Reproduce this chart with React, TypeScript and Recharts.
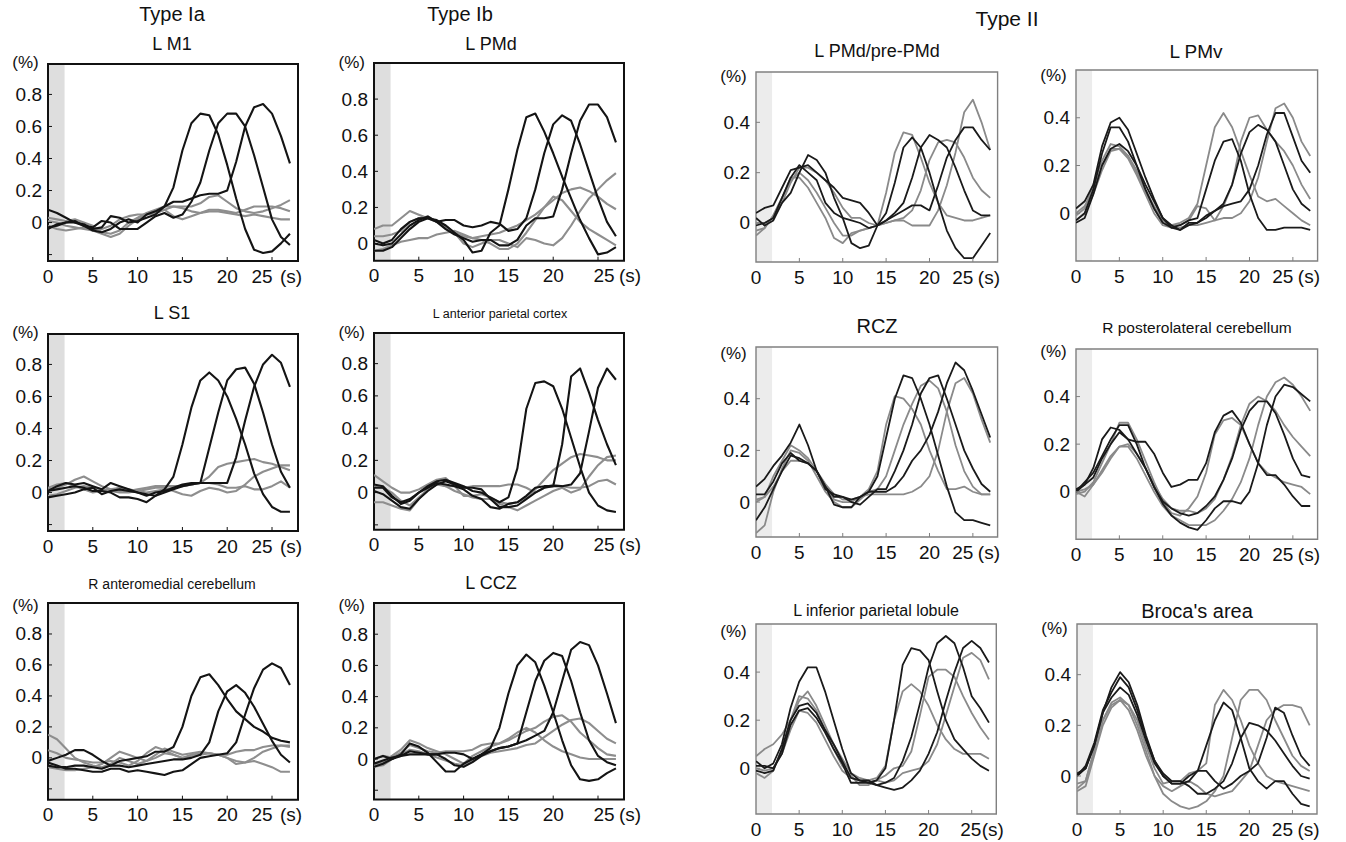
import React from "react";
import { LineChart, Line, XAxis, YAxis, ReferenceArea } from "recharts";

// sampling times (s) and axis ticks
const seconds = [0, 1, 2, 3, 4, 5, 6, 7, 8, 9, 10, 11, 12, 13, 14, 15, 16, 17, 18, 19, 20, 21, 22, 23, 24, 25, 26, 27];
const xTicks = [0, 5, 10, 15, 20, 25];
const yTicksTypeI = [-0.2, 0, 0.2, 0.4, 0.6, 0.8];
const yTicksTypeII = [0, 0.2, 0.4];

// ---- Type Ia / Ib ----
const lM1Black = [
  [0.08, 0.06, 0.03, 0.0, -0.01, -0.04, -0.03, 0.04, 0.03, 0.0, 0.01, 0.03, 0.05, 0.1, 0.22, 0.45, 0.62, 0.68, 0.67, 0.55, 0.36, 0.15, -0.04, -0.17, -0.19, -0.18, -0.13, -0.07],
  [-0.03, -0.02, 0.0, 0.0, -0.02, -0.03, 0.01, 0.0, -0.04, -0.04, -0.04, 0.0, 0.04, 0.06, 0.03, 0.05, 0.13, 0.25, 0.45, 0.62, 0.68, 0.68, 0.6, 0.42, 0.22, 0.02, -0.09, -0.14],
  [-0.04, -0.01, 0.0, 0.01, -0.02, -0.05, -0.06, -0.04, 0.0, 0.02, 0.0, 0.05, 0.07, 0.1, 0.13, 0.13, 0.15, 0.17, 0.18, 0.18, 0.2, 0.38, 0.6, 0.72, 0.74, 0.68, 0.54, 0.37],
];
const lM1Gray = [
  [0.03, 0.02, 0.01, 0.02, 0.0, -0.02, -0.06, -0.07, -0.05, 0.0, 0.03, 0.06, 0.08, 0.1, 0.1, 0.1, 0.1, 0.12, 0.16, 0.17, 0.13, 0.09, 0.07, 0.06, 0.07, 0.09, 0.11, 0.14],
  [-0.02, -0.04, -0.05, -0.04, -0.03, -0.05, -0.07, -0.09, -0.07, -0.02, 0.02, 0.05, 0.06, 0.08, 0.04, 0.02, 0.04, 0.06, 0.08, 0.08, 0.07, 0.06, 0.08, 0.1, 0.1, 0.1, 0.09, 0.07],
  [0.01, 0.0, -0.02, -0.03, -0.04, -0.05, -0.04, -0.02, 0.02, 0.04, 0.05, 0.05, 0.06, 0.08, 0.1, 0.09, 0.07, 0.06, 0.07, 0.07, 0.06, 0.05, 0.04, 0.05, 0.04, 0.03, 0.02, 0.02],
];

const lPMdBlack = [
  [0.02, 0.0, 0.02, 0.08, 0.12, 0.14, 0.14, 0.13, 0.1, 0.06, 0.02, -0.05, -0.04, 0.06, 0.1, 0.3, 0.52, 0.7, 0.72, 0.62, 0.5, 0.37, 0.25, 0.13, 0.03, -0.06, -0.05, -0.02],
  [-0.04, -0.04, -0.02, 0.03, 0.08, 0.12, 0.14, 0.12, 0.13, 0.13, 0.1, 0.09, 0.1, 0.12, 0.11, 0.07, 0.08, 0.14, 0.3, 0.5, 0.66, 0.71, 0.68, 0.55, 0.4, 0.25, 0.12, 0.04],
  [0.0, -0.01, 0.0, 0.05, 0.1, 0.13, 0.15, 0.12, 0.08, 0.05, 0.03, 0.01, 0.02, 0.02, -0.01, -0.01, 0.02, 0.1, 0.14, 0.14, 0.15, 0.3, 0.5, 0.68, 0.77, 0.77, 0.7, 0.56],
];
const lPMdGray = [
  [0.08, 0.1, 0.1, 0.14, 0.18, 0.16, 0.14, 0.12, 0.1, 0.06, 0.0, -0.02, 0.0, 0.02, 0.02, 0.0, -0.02, 0.03, 0.02, 0.0, -0.01, 0.03, 0.1, 0.18, 0.25, 0.3, 0.35, 0.39],
  [0.04, 0.04, 0.05, 0.07, 0.12, 0.14, 0.15, 0.12, 0.09, 0.06, 0.04, 0.03, 0.04, 0.05, 0.06, 0.08, 0.1, 0.13, 0.16, 0.2, 0.24, 0.28, 0.3, 0.31, 0.29, 0.26, 0.22, 0.19],
  [-0.04, -0.03, -0.01, 0.01, 0.02, 0.03, 0.03, 0.05, 0.06, 0.07, 0.05, 0.03, 0.02, 0.0, -0.03, -0.03, 0.0, 0.06, 0.13, 0.2, 0.26, 0.24, 0.18, 0.12, 0.08, 0.05, 0.02, -0.01],
];

const lS1Black = [
  [0.01, 0.04, 0.06, 0.05, 0.06, 0.04, 0.02, 0.06, 0.04, 0.02, 0.0, -0.01, -0.02, 0.02, 0.1, 0.3, 0.53, 0.7, 0.75, 0.7, 0.6, 0.46, 0.3, 0.12, -0.01, -0.09, -0.12, -0.12],
  [0.01, 0.02, 0.03, 0.04, 0.03, 0.01, 0.01, 0.0, -0.03, -0.03, -0.04, -0.06, -0.02, 0.0, 0.02, 0.04, 0.05, 0.06, 0.28, 0.5, 0.7, 0.77, 0.78, 0.68, 0.5, 0.3, 0.13, 0.03],
  [-0.03, -0.02, -0.01, 0.0, 0.02, 0.03, -0.01, 0.01, 0.02, 0.01, 0.0, -0.02, 0.0, 0.01, 0.03, 0.05, 0.06, 0.06, 0.06, 0.06, 0.06, 0.22, 0.45, 0.66, 0.8, 0.86, 0.81, 0.66],
];
const lS1Gray = [
  [0.02, 0.03, 0.05, 0.08, 0.1, 0.07, 0.04, 0.02, 0.01, 0.01, 0.02, 0.03, 0.04, 0.04, 0.04, 0.04, 0.05, 0.06, 0.1, 0.16, 0.18, 0.19, 0.2, 0.21, 0.19, 0.18, 0.16, 0.14],
  [-0.02, -0.01, 0.01, 0.03, 0.04, 0.03, 0.02, 0.01, 0.0, 0.0, 0.01, 0.02, 0.03, 0.03, 0.01, -0.01, -0.02, 0.01, 0.03, 0.02, 0.0, 0.01, 0.05, 0.1, 0.13, 0.15, 0.17, 0.17],
  [0.03, 0.05, 0.06, 0.04, 0.02, 0.0, 0.01, 0.02, 0.03, 0.02, 0.01, 0.0, 0.01, 0.02, 0.03, 0.04, 0.05, 0.06, 0.06, 0.05, 0.03, 0.03, 0.04, 0.02, 0.02, 0.04, 0.07, 0.03],
];

const lAntParBlack = [
  [0.05, 0.04, -0.02, -0.07, -0.05, 0.0, 0.04, 0.07, 0.08, 0.06, 0.04, 0.01, 0.0, -0.03, -0.06, -0.03, 0.15, 0.52, 0.68, 0.69, 0.66, 0.52, 0.34, 0.16, 0.0, -0.08, -0.11, -0.12],
  [0.03, 0.03, -0.03, -0.06, -0.04, 0.0, 0.03, 0.06, 0.05, 0.04, 0.02, -0.02, -0.04, -0.09, -0.1, -0.07, -0.06, -0.02, 0.03, 0.04, 0.04, 0.3, 0.72, 0.77, 0.62, 0.45, 0.3, 0.17],
  [0.01, -0.01, -0.05, -0.09, -0.1, -0.04, 0.01, 0.05, 0.07, 0.05, 0.03, 0.03, 0.02, -0.04, -0.09, -0.09, -0.08, -0.04, 0.0, 0.03, 0.04, 0.04, 0.05, 0.12, 0.38, 0.65, 0.77, 0.7],
];
const lAntParGray = [
  [0.11, 0.07, 0.03, 0.0, 0.0, 0.02, 0.05, 0.08, 0.09, 0.04, -0.02, -0.02, -0.01, -0.03, -0.06, -0.07, -0.06, -0.03, 0.02, 0.08, 0.14, 0.18, 0.22, 0.24, 0.23, 0.22, 0.2, 0.2],
  [-0.06, -0.06, -0.08, -0.1, -0.11, -0.04, 0.02, 0.06, 0.04, 0.01, -0.01, -0.03, -0.04, -0.04, -0.07, -0.09, -0.11, -0.08, -0.05, -0.02, 0.01, 0.03, 0.0, 0.02, 0.1, 0.17, 0.22, 0.23],
  [0.04, 0.03, 0.0, -0.05, -0.08, -0.03, 0.02, 0.05, 0.04, 0.04, 0.03, 0.04, 0.04, 0.04, 0.04, 0.05, 0.05, 0.03, 0.0, 0.03, 0.05, 0.04, 0.03, 0.03, 0.04, 0.07, 0.08, 0.05],
];

const rAntCbBlack = [
  [-0.05, -0.06, -0.06, -0.05, -0.05, -0.06, -0.07, -0.05, -0.02, -0.01, 0.0, 0.01, 0.04, 0.04, 0.07, 0.2, 0.4, 0.52, 0.54, 0.47, 0.38, 0.3, 0.25, 0.2, 0.17, 0.13, 0.11, 0.1],
  [-0.02, 0.0, 0.02, 0.05, 0.05, 0.02, -0.02, -0.05, -0.05, -0.06, -0.05, -0.04, -0.03, -0.02, -0.01, -0.01, 0.0, 0.02, 0.1, 0.3, 0.43, 0.47, 0.42, 0.33, 0.22, 0.11, 0.02, -0.03],
  [-0.03, -0.05, -0.07, -0.07, -0.08, -0.09, -0.09, -0.07, -0.07, -0.09, -0.08, -0.09, -0.1, -0.11, -0.09, -0.08, -0.04, 0.0, 0.01, 0.02, 0.03, 0.1, 0.28, 0.45, 0.57, 0.61, 0.58, 0.47],
];
const rAntCbGray = [
  [0.15, 0.12, 0.06, 0.0, -0.03, -0.05, -0.06, -0.04, 0.0, -0.02, -0.04, -0.02, 0.0, 0.03, 0.02, 0.0, 0.02, 0.03, 0.03, 0.02, 0.0, -0.02, -0.03, -0.02, -0.04, -0.06, -0.09, -0.09],
  [0.05, 0.03, 0.0, -0.01, -0.02, -0.03, -0.03, -0.02, -0.03, -0.05, -0.02, 0.03, 0.07, 0.05, 0.02, 0.0, 0.01, 0.02, 0.03, 0.02, 0.0, -0.04, -0.03, 0.0, 0.04, 0.06, 0.08, 0.08],
  [-0.06, -0.07, -0.08, -0.08, -0.07, -0.06, -0.04, 0.0, 0.04, 0.02, 0.0, -0.02, 0.02, 0.06, 0.04, 0.02, 0.03, 0.04, 0.03, 0.02, 0.02, 0.04, 0.05, 0.05, 0.07, 0.08, 0.08, 0.07],
];

const lCCZBlack = [
  [-0.03, -0.01, 0.01, 0.02, 0.03, 0.03, 0.03, 0.03, 0.04, 0.04, 0.03, 0.0, 0.03, 0.07, 0.2, 0.42, 0.6, 0.67, 0.62, 0.47, 0.3, 0.12, -0.04, -0.13, -0.14, -0.13, -0.09, -0.06],
  [0.0, 0.02, 0.0, 0.03, 0.1, 0.08, 0.04, -0.02, -0.08, -0.08, -0.03, 0.0, 0.03, 0.05, 0.07, 0.08, 0.1, 0.3, 0.5, 0.63, 0.68, 0.66, 0.5, 0.3, 0.12, 0.02, -0.02, -0.04],
  [-0.05, -0.03, 0.0, 0.02, 0.05, 0.04, 0.03, 0.03, 0.0, -0.04, -0.05, -0.02, 0.02, 0.05, 0.07, 0.08, 0.1, 0.12, 0.15, 0.18, 0.3, 0.5, 0.7, 0.75, 0.73, 0.6, 0.42, 0.23],
];
const lCCZGray = [
  [-0.04, -0.02, 0.02, 0.06, 0.12, 0.1, 0.07, 0.05, 0.03, 0.0, -0.03, 0.02, 0.05, 0.08, 0.1, 0.13, 0.17, 0.2, 0.17, 0.12, 0.08, 0.05, 0.03, 0.01, 0.0, 0.0, 0.0, 0.0],
  [0.0, 0.02, 0.01, 0.04, 0.09, 0.07, 0.05, 0.04, 0.05, 0.05, 0.05, 0.06, 0.09, 0.1, 0.1, 0.12, 0.15, 0.18, 0.2, 0.24, 0.27, 0.28, 0.24, 0.17, 0.12, 0.07, 0.03, 0.02],
  [-0.05, -0.04, 0.0, 0.03, 0.06, 0.05, 0.03, 0.01, -0.01, -0.03, -0.04, -0.01, 0.02, 0.04, 0.05, 0.06, 0.07, 0.09, 0.1, 0.14, 0.18, 0.22, 0.25, 0.26, 0.23, 0.18, 0.13, 0.1],
];

// ---- Type II ----
const lPreBlack = [
  [0.04, 0.06, 0.07, 0.14, 0.21, 0.22, 0.23, 0.2, 0.17, 0.14, 0.1, 0.09, 0.08, 0.04, -0.01, 0.01, 0.04, 0.08, 0.18, 0.3, 0.35, 0.33, 0.3, 0.22, 0.13, 0.05, 0.03, 0.03],
  [0.02, -0.01, 0.01, 0.08, 0.12, 0.2, 0.27, 0.25, 0.2, 0.1, 0.02, -0.08, -0.1, -0.09, -0.01, 0.04, 0.16, 0.3, 0.34, 0.3, 0.2, 0.08, -0.03, -0.1, -0.14, -0.14, -0.09, -0.04],
  [-0.01, 0.0, 0.02, 0.1, 0.18, 0.23, 0.2, 0.17, 0.08, 0.04, 0.02, 0.01, 0.0, -0.02, -0.01, 0.01, 0.03, 0.05, 0.07, 0.07, 0.05, 0.15, 0.26, 0.33, 0.38, 0.38, 0.33, 0.29],
];
const lPreGray = [
  [-0.05, -0.02, 0.03, 0.1, 0.18, 0.18, 0.14, 0.08, 0.02, -0.06, -0.08, -0.04, -0.03, -0.02, -0.01, 0.12, 0.28, 0.36, 0.35, 0.26, 0.16, 0.08, 0.03, 0.02, 0.01, 0.01, 0.02, 0.03],
  [0.0, 0.0, 0.02, 0.08, 0.16, 0.22, 0.22, 0.2, 0.17, 0.12, 0.06, 0.02, 0.02, 0.0, -0.01, 0.0, 0.01, 0.02, 0.05, 0.13, 0.25, 0.32, 0.33, 0.32, 0.26, 0.18, 0.13, 0.1],
  [-0.03, -0.02, 0.03, 0.1, 0.17, 0.2, 0.17, 0.12, 0.06, 0.0, -0.05, -0.05, -0.03, -0.02, -0.01, 0.0, 0.01, 0.01, -0.01, -0.01, -0.01, 0.05, 0.15, 0.28, 0.44, 0.49, 0.4, 0.29],
];

const lPMvBlack = [
  [-0.03, 0.0, 0.1, 0.25, 0.36, 0.36, 0.3, 0.2, 0.1, 0.02, -0.04, -0.06, -0.05, -0.03, -0.02, 0.1, 0.22, 0.3, 0.31, 0.22, 0.08, -0.02, -0.07, -0.07, -0.06, -0.06, -0.06, -0.07],
  [0.02, 0.05, 0.12, 0.28, 0.38, 0.4, 0.35, 0.25, 0.15, 0.06, -0.02, -0.06, -0.07, -0.04, -0.04, -0.02, 0.01, 0.04, 0.12, 0.25, 0.34, 0.37, 0.35, 0.3, 0.2, 0.1, 0.04, 0.01],
  [-0.04, -0.02, 0.08, 0.2, 0.27, 0.29, 0.26, 0.2, 0.12, 0.05, -0.02, -0.05, -0.07, -0.05, -0.04, -0.01, 0.01, 0.03, 0.04, 0.05, 0.1, 0.2, 0.33, 0.42, 0.42, 0.32, 0.22, 0.17],
];
const lPMvGray = [
  [-0.01, 0.02, 0.12, 0.22, 0.29, 0.28, 0.24, 0.18, 0.1, 0.03, -0.03, -0.05, -0.04, -0.02, 0.04, 0.2, 0.36, 0.42, 0.36, 0.26, 0.16, 0.07, 0.05, 0.06, 0.03, 0.0, -0.03, -0.05],
  [0.0, 0.03, 0.1, 0.2, 0.27, 0.27, 0.24, 0.17, 0.09, 0.02, -0.04, -0.05, -0.05, -0.03, 0.03, 0.02, -0.03, 0.03, 0.12, 0.3, 0.4, 0.41, 0.35, 0.3, 0.26, 0.2, 0.12, 0.06],
  [-0.03, 0.0, 0.08, 0.18, 0.26, 0.27, 0.23, 0.16, 0.08, 0.0, -0.05, -0.06, -0.06, -0.05, -0.05, -0.04, -0.03, -0.02, -0.02, 0.0, 0.05, 0.15, 0.3, 0.44, 0.46, 0.4, 0.3, 0.24],
];

const rczBlack = [
  [0.06, 0.09, 0.14, 0.18, 0.23, 0.3, 0.22, 0.12, 0.05, 0.03, 0.02, 0.01, 0.02, 0.04, 0.1, 0.25, 0.4, 0.49, 0.48, 0.4, 0.3, 0.18, 0.06, -0.04, -0.07, -0.07, -0.08, -0.09],
  [0.03, 0.03, 0.08, 0.15, 0.19, 0.16, 0.15, 0.12, 0.06, 0.02, 0.02, 0.0, -0.01, 0.02, 0.05, 0.05, 0.12, 0.2, 0.3, 0.42, 0.48, 0.49, 0.4, 0.3, 0.2, 0.13, 0.07, 0.04],
  [-0.07, -0.02, 0.05, 0.12, 0.18, 0.17, 0.15, 0.12, 0.06, -0.01, -0.02, -0.02, 0.02, 0.04, 0.04, 0.04, 0.06, 0.1, 0.16, 0.2, 0.26, 0.35, 0.46, 0.54, 0.51, 0.43, 0.34, 0.25],
];
const rczGray = [
  [0.0, 0.02, 0.1, 0.16, 0.22, 0.2, 0.17, 0.12, 0.06, 0.01, 0.0, 0.0, 0.02, 0.05, 0.12, 0.3, 0.41, 0.4, 0.36, 0.3, 0.2, 0.12, 0.05, 0.05, 0.06, 0.04, 0.03, 0.03],
  [-0.12, -0.09, 0.04, 0.13, 0.2, 0.19, 0.16, 0.1, 0.04, 0.0, -0.02, -0.02, 0.01, 0.04, 0.05, 0.1, 0.2, 0.3, 0.38, 0.45, 0.47, 0.44, 0.35, 0.22, 0.12, 0.06, 0.03, 0.03],
  [0.01, 0.02, 0.06, 0.12, 0.16, 0.16, 0.15, 0.12, 0.07, 0.03, 0.01, 0.01, 0.02, 0.03, 0.03, 0.03, 0.03, 0.03, 0.04, 0.06, 0.1, 0.2, 0.35, 0.46, 0.48, 0.42, 0.32, 0.23],
];

const rPostCbBlack = [
  [0.0, 0.03, 0.1, 0.22, 0.27, 0.26, 0.22, 0.21, 0.21, 0.16, 0.08, 0.02, 0.03, 0.05, 0.05, 0.12, 0.25, 0.32, 0.34, 0.29, 0.2, 0.12, 0.07, 0.07, 0.03, -0.02, -0.06, -0.06],
  [0.0, 0.04, 0.08, 0.15, 0.22, 0.28, 0.28, 0.2, 0.1, 0.02, -0.05, -0.1, -0.13, -0.15, -0.16, -0.12, -0.07, -0.04, -0.04, -0.05, 0.0, 0.12, 0.28, 0.4, 0.45, 0.44, 0.41, 0.38],
  [0.01, 0.03, 0.06, 0.14, 0.2, 0.25, 0.22, 0.16, 0.1, 0.02, -0.04, -0.07, -0.09, -0.1, -0.09, -0.06, -0.02, 0.05, 0.14, 0.26, 0.34, 0.38, 0.38, 0.33, 0.24, 0.14, 0.07, 0.06],
];
const rPostCbGray = [
  [-0.01, 0.0, 0.04, 0.12, 0.2, 0.29, 0.29, 0.22, 0.13, 0.04, -0.04, -0.09, -0.1, -0.07, -0.02, 0.08, 0.24, 0.3, 0.31, 0.28, 0.2, 0.12, 0.08, 0.06, 0.04, 0.03, 0.02, -0.01],
  [0.0, -0.02, 0.03, 0.09, 0.15, 0.19, 0.2, 0.16, 0.1, 0.03, -0.03, -0.07, -0.08, -0.08, -0.09, -0.07, -0.03, 0.05, 0.15, 0.28, 0.37, 0.4, 0.38, 0.34, 0.28, 0.23, 0.19, 0.15],
  [0.0, 0.01, 0.03, 0.08, 0.14, 0.19, 0.19, 0.14, 0.07, 0.0, -0.06, -0.1, -0.12, -0.14, -0.14, -0.14, -0.12, -0.08, -0.03, 0.04, 0.14, 0.28, 0.4, 0.46, 0.48, 0.45, 0.4, 0.34],
];

const lIplBlack = [
  [0.03, 0.0, 0.02, 0.1, 0.25, 0.36, 0.42, 0.42, 0.32, 0.2, 0.08, -0.02, -0.05, -0.06, -0.05, 0.0, 0.2, 0.43, 0.5, 0.49, 0.45, 0.32, 0.2, 0.12, 0.08, 0.04, 0.01, -0.01],
  [-0.01, -0.02, -0.01, 0.08, 0.2, 0.26, 0.27, 0.23, 0.16, 0.1, 0.03, -0.04, -0.05, -0.05, -0.07, -0.06, -0.04, 0.03, 0.13, 0.27, 0.42, 0.52, 0.55, 0.52, 0.42, 0.3, 0.25, 0.19],
  [0.01, 0.01, 0.0, 0.06, 0.18, 0.24, 0.25, 0.21, 0.15, 0.08, 0.02, -0.06, -0.06, -0.06, -0.07, -0.08, -0.09, -0.08, -0.05, -0.01, 0.06, 0.15, 0.28, 0.4, 0.5, 0.53, 0.5, 0.44],
];
const lIplGray = [
  [0.05, 0.08, 0.1, 0.14, 0.2, 0.28, 0.32, 0.26, 0.18, 0.1, 0.04, -0.02, -0.04, -0.05, -0.04, 0.01, 0.2, 0.32, 0.35, 0.32, 0.26, 0.18, 0.12, 0.08, 0.06, 0.06, 0.06, 0.04],
  [-0.02, -0.04, -0.01, 0.08, 0.2, 0.3, 0.29, 0.24, 0.16, 0.08, 0.01, -0.03, -0.07, -0.07, -0.05, -0.03, 0.0, 0.01, 0.07, 0.22, 0.38, 0.41, 0.41, 0.38, 0.3, 0.23, 0.17, 0.12],
  [0.0, -0.01, 0.0, 0.06, 0.16, 0.24, 0.23, 0.19, 0.12, 0.05, -0.01, -0.04, -0.05, -0.06, -0.05, -0.06, -0.05, -0.02, -0.01, 0.0, 0.03, 0.1, 0.22, 0.34, 0.46, 0.48, 0.45, 0.37],
];

const brocaBlack = [
  [0.0, 0.03, 0.12, 0.25, 0.35, 0.41, 0.37, 0.28, 0.16, 0.06, 0.0, -0.03, -0.03, 0.0, 0.02, 0.12, 0.22, 0.29, 0.26, 0.15, 0.03, -0.02, -0.05, -0.02, -0.02, -0.07, -0.11, -0.12],
  [0.0, 0.04, 0.13, 0.26, 0.33, 0.39, 0.35, 0.26, 0.15, 0.06, 0.01, -0.02, -0.02, -0.04, -0.07, -0.07, -0.05, -0.02, 0.05, 0.15, 0.21, 0.2, 0.18, 0.14, 0.09, 0.04, 0.0, -0.01],
  [0.01, 0.03, 0.12, 0.25, 0.31, 0.35, 0.32, 0.24, 0.14, 0.05, 0.0, -0.03, -0.03, -0.02, 0.02, 0.02, -0.02, -0.05, -0.03, 0.0, 0.02, 0.05, 0.15, 0.27, 0.25, 0.16, 0.08, 0.04],
];
const brocaGray = [
  [-0.05, -0.02, 0.1, 0.22, 0.29, 0.31, 0.28, 0.22, 0.12, 0.03, -0.03, -0.02, -0.02, 0.01, 0.02, 0.05, 0.28, 0.34, 0.3, 0.22, 0.12, 0.05, 0.0, -0.02, -0.03, -0.04, -0.05, -0.06],
  [-0.03, -0.02, 0.1, 0.22, 0.28, 0.3, 0.28, 0.2, 0.1, 0.0, -0.07, -0.1, -0.12, -0.13, -0.12, -0.1, -0.06, 0.0, 0.15, 0.3, 0.34, 0.34, 0.3, 0.22, 0.15, 0.08, 0.04, 0.02],
  [-0.06, -0.04, 0.08, 0.2, 0.27, 0.3, 0.26, 0.18, 0.08, 0.0, -0.04, -0.06, -0.04, -0.02, -0.04, -0.07, -0.08, -0.07, -0.06, -0.02, 0.02, 0.12, 0.22, 0.26, 0.28, 0.28, 0.27, 0.2],
];

// ---- layout ----
const FONT = "'Liberation Sans', Arial, Helvetica, sans-serif";
const AXIS_W = 60;
const AXIS_H = 36;
const MARGIN = { top: 4, right: 50, bottom: 0, left: 0 };
const GAP_Y = 6;
const GAP_X = 8;
const TICK_FONT = 19;

type Kind = "I" | "II";
type PanelCfg = {
  title: string;
  black: number[][];
  gray: number[][];
  kind: Kind;
  left: number;
  top: number;
  w: number;
  h: number;
  y: [number, number];
  ticks: number[];
  titleX: number;
  titleY: number;
  titleSize: number;
  pctY: number;
  numDx: number;
  sDx: number;
};

const looks = {
  I: { frame: "#111", frameW: 2, tick: "#111", band: "#dedede", line: 2.1, black: "#141414", gray: "#8e8e8e", xMax: 27.9 },
  II: { frame: "#808080", frameW: 1.4, tick: "#808080", band: "#ececec", line: 1.8, black: "#1a1a1a", gray: "#8a8a8a", xMax: 27.85 },
};

const panels: PanelCfg[] = [
  { title: "L M1", black: lM1Black, gray: lM1Gray, kind: "I", left: 47.7, top: 64, w: 250, h: 197, y: [-0.24, 0.99], ticks: yTicksTypeI, titleX: 172, titleY: 44, titleSize: 18, pctY: 62, numDx: -10, sDx: 8 },
  { title: "L PMd", black: lPMdBlack, gray: lPMdGray, kind: "I", left: 374, top: 63.3, w: 250, h: 197.7, y: [-0.095, 1.0], ticks: yTicksTypeI, titleX: 491, titleY: 44, titleSize: 18, pctY: 62, numDx: 6, sDx: 21 },
  { title: "L PMd/pre-PMd", black: lPreBlack, gray: lPreGray, kind: "II", left: 755.7, top: 71.7, w: 241.6, h: 190, y: [-0.155, 0.6], ticks: yTicksTypeII, titleX: 877, titleY: 51, titleSize: 18, pctY: 76, numDx: -10, sDx: 5 },
  { title: "L PMv", black: lPMvBlack, gray: lPMvGray, kind: "II", left: 1075.7, top: 70, w: 241.6, h: 191, y: [-0.2, 0.6], ticks: yTicksTypeII, titleX: 1196, titleY: 51, titleSize: 19, pctY: 75, numDx: -10, sDx: 5 },
  { title: "L S1", black: lS1Black, gray: lS1Gray, kind: "I", left: 47.7, top: 334, w: 250, h: 197, y: [-0.24, 0.99], ticks: yTicksTypeI, titleX: 172, titleY: 313, titleSize: 18, pctY: 332, numDx: -10, sDx: 8 },
  { title: "L anterior parietal cortex", black: lAntParBlack, gray: lAntParGray, kind: "I", left: 374, top: 333.3, w: 250, h: 196.7, y: [-0.23, 0.99], ticks: yTicksTypeI, titleX: 500, titleY: 314, titleSize: 12.5, pctY: 332, numDx: 6, sDx: 21 },
  { title: "RCZ", black: rczBlack, gray: rczGray, kind: "II", left: 755.7, top: 346.7, w: 241.6, h: 190, y: [-0.135, 0.6], ticks: yTicksTypeII, titleX: 877, titleY: 326, titleSize: 20, pctY: 353, numDx: -10, sDx: 5 },
  { title: "R posterolateral cerebellum", black: rPostCbBlack, gray: rPostCbGray, kind: "II", left: 1075.7, top: 349, w: 241.6, h: 190.3, y: [-0.2, 0.6], ticks: yTicksTypeII, titleX: 1197, titleY: 327, titleSize: 15.5, pctY: 351, numDx: -10, sDx: 5 },
  { title: "R anteromedial cerebellum", black: rAntCbBlack, gray: rAntCbGray, kind: "I", left: 47.7, top: 603.3, w: 250, h: 196.7, y: [-0.27, 1.0], ticks: yTicksTypeI, titleX: 172, titleY: 584, titleSize: 14, pctY: 605, numDx: -10, sDx: 8 },
  { title: "L CCZ", black: lCCZBlack, gray: lCCZGray, kind: "I", left: 374, top: 602.7, w: 250, h: 196.6, y: [-0.26, 1.0], ticks: yTicksTypeI, titleX: 491, titleY: 583, titleSize: 18, pctY: 605, numDx: 6, sDx: 21 },
  { title: "L inferior parietal lobule", black: lIplBlack, gray: lIplGray, kind: "II", left: 755.7, top: 624.3, w: 240.3, h: 190, y: [-0.19, 0.6], ticks: yTicksTypeII, titleX: 876, titleY: 610, titleSize: 16, pctY: 631, numDx: -1, sDx: 10 },
  { title: "Broca's area", black: brocaBlack, gray: brocaGray, kind: "II", left: 1076.7, top: 624.3, w: 240, h: 190, y: [-0.15, 0.6], ticks: yTicksTypeII, titleX: 1197, titleY: 611, titleSize: 20, pctY: 628, numDx: -10, sDx: 5 },
];

const headers = [
  { text: "Type Ia", x: 172, y: 14, size: 20 },
  { text: "Type Ib", x: 460, y: 14, size: 20 },
  { text: "Type II", x: 1007, y: 18, size: 21 },
];

function Panel({ cfg }: { cfg: PanelCfg }) {
  const st = looks[cfg.kind];
  const [yMin, yMax] = cfg.y;
  const data = seconds.map((t, i) => {
    const row: Record<string, number> = { t };
    cfg.black.forEach((s, k) => (row[`b${k}`] = s[i]));
    cfg.gray.forEach((s, k) => (row[`g${k}`] = s[i]));
    return row;
  });
  const width = AXIS_W + cfg.w + MARGIN.right;
  const height = MARGIN.top + cfg.h + AXIS_H;

  const yTick = (p: any) => {
    const v = p.payload.value as number;
    const ax = p.x + GAP_Y;
    return (
      <g>
        <line x1={ax} x2={ax + 4} y1={p.y} y2={p.y} stroke={st.tick} strokeWidth={1} />
        {v >= 0 && (
          <text x={p.x} y={p.y} textAnchor="end" dominantBaseline="central" fontSize={TICK_FONT} fontFamily={FONT} fill="#111">
            {String(v)}
          </text>
        )}
      </g>
    );
  };

  const xTick = (p: any) => {
    const v = p.payload.value as number;
    const ay = p.y - GAP_X;
    const last = v === 25;
    return (
      <g>
        {v !== 0 && <line x1={p.x} x2={p.x} y1={ay} y2={ay - 4} stroke={st.tick} strokeWidth={1} />}
        <text x={p.x + (last ? cfg.numDx : 0)} y={p.y} dy="0.72em" textAnchor="middle" fontSize={TICK_FONT} fontFamily={FONT} fill="#111">
          {v}
        </text>
        {last && (
          <text x={p.x + cfg.sDx} y={p.y} dy="0.72em" textAnchor="start" fontSize={TICK_FONT} fontFamily={FONT} fill="#111">
            (s)
          </text>
        )}
      </g>
    );
  };

  return (
    <div style={{ position: "absolute", left: cfg.left - AXIS_W, top: cfg.top - MARGIN.top }}>
      <LineChart width={width} height={height} data={data} margin={MARGIN}>
        <XAxis
          dataKey="t"
          type="number"
          domain={[0, st.xMax]}
          ticks={xTicks}
          interval={0}
          allowDataOverflow
          axisLine={false}
          tickLine={false}
          tickSize={0}
          tickMargin={GAP_X}
          height={AXIS_H}
          tick={xTick}
        />
        <YAxis
          type="number"
          domain={[yMin, yMax]}
          ticks={cfg.ticks}
          interval={0}
          allowDataOverflow
          axisLine={false}
          tickLine={false}
          tickSize={0}
          tickMargin={GAP_Y}
          width={AXIS_W}
          tick={yTick}
        />
        <ReferenceArea x1={0} x2={1.85} fill={st.band} fillOpacity={1} stroke="none" />
        {cfg.gray.map((_, k) => (
          <Line
            key={`g${k}`}
            type="linear"
            dataKey={`g${k}`}
            stroke={st.gray}
            strokeWidth={st.line}
            strokeLinejoin="round"
            dot={false}
            activeDot={false}
            isAnimationActive={false}
          />
        ))}
        {cfg.black.map((_, k) => (
          <Line
            key={`b${k}`}
            type="linear"
            dataKey={`b${k}`}
            stroke={st.black}
            strokeWidth={st.line}
            strokeLinejoin="round"
            dot={false}
            activeDot={false}
            isAnimationActive={false}
          />
        ))}
        <ReferenceArea x1={0} x2={st.xMax} y1={yMin} y2={yMax} fill="none" fillOpacity={0} stroke={st.frame} strokeWidth={st.frameW} />
      </LineChart>
    </div>
  );
}

export default function App() {
  return (
    <div style={{ position: "absolute", left: 0, top: 0, width: 1346, height: 842, background: "#fff" }}>
      {panels.map((p) => (
        <Panel key={p.title} cfg={p} />
      ))}
      <svg width={1346} height={842} style={{ position: "absolute", left: 0, top: 0, pointerEvents: "none" }}>
        {headers.map((h) => (
          <text key={h.text} x={h.x} y={h.y} textAnchor="middle" dominantBaseline="central" fontSize={h.size} fontFamily={FONT} fill="#111">
            {h.text}
          </text>
        ))}
        {panels.map((p) => (
          <text key={`t-${p.title}`} x={p.titleX} y={p.titleY} textAnchor="middle" dominantBaseline="central" fontSize={p.titleSize} fontFamily={FONT} fill="#111">
            {p.title}
          </text>
        ))}
        {panels.map((p) => (
          <text key={`u-${p.title}`} x={p.left - 9} y={p.pctY} textAnchor="end" dominantBaseline="central" fontSize={17} fontFamily={FONT} fill="#111">
            (%)
          </text>
        ))}
      </svg>
    </div>
  );
}
